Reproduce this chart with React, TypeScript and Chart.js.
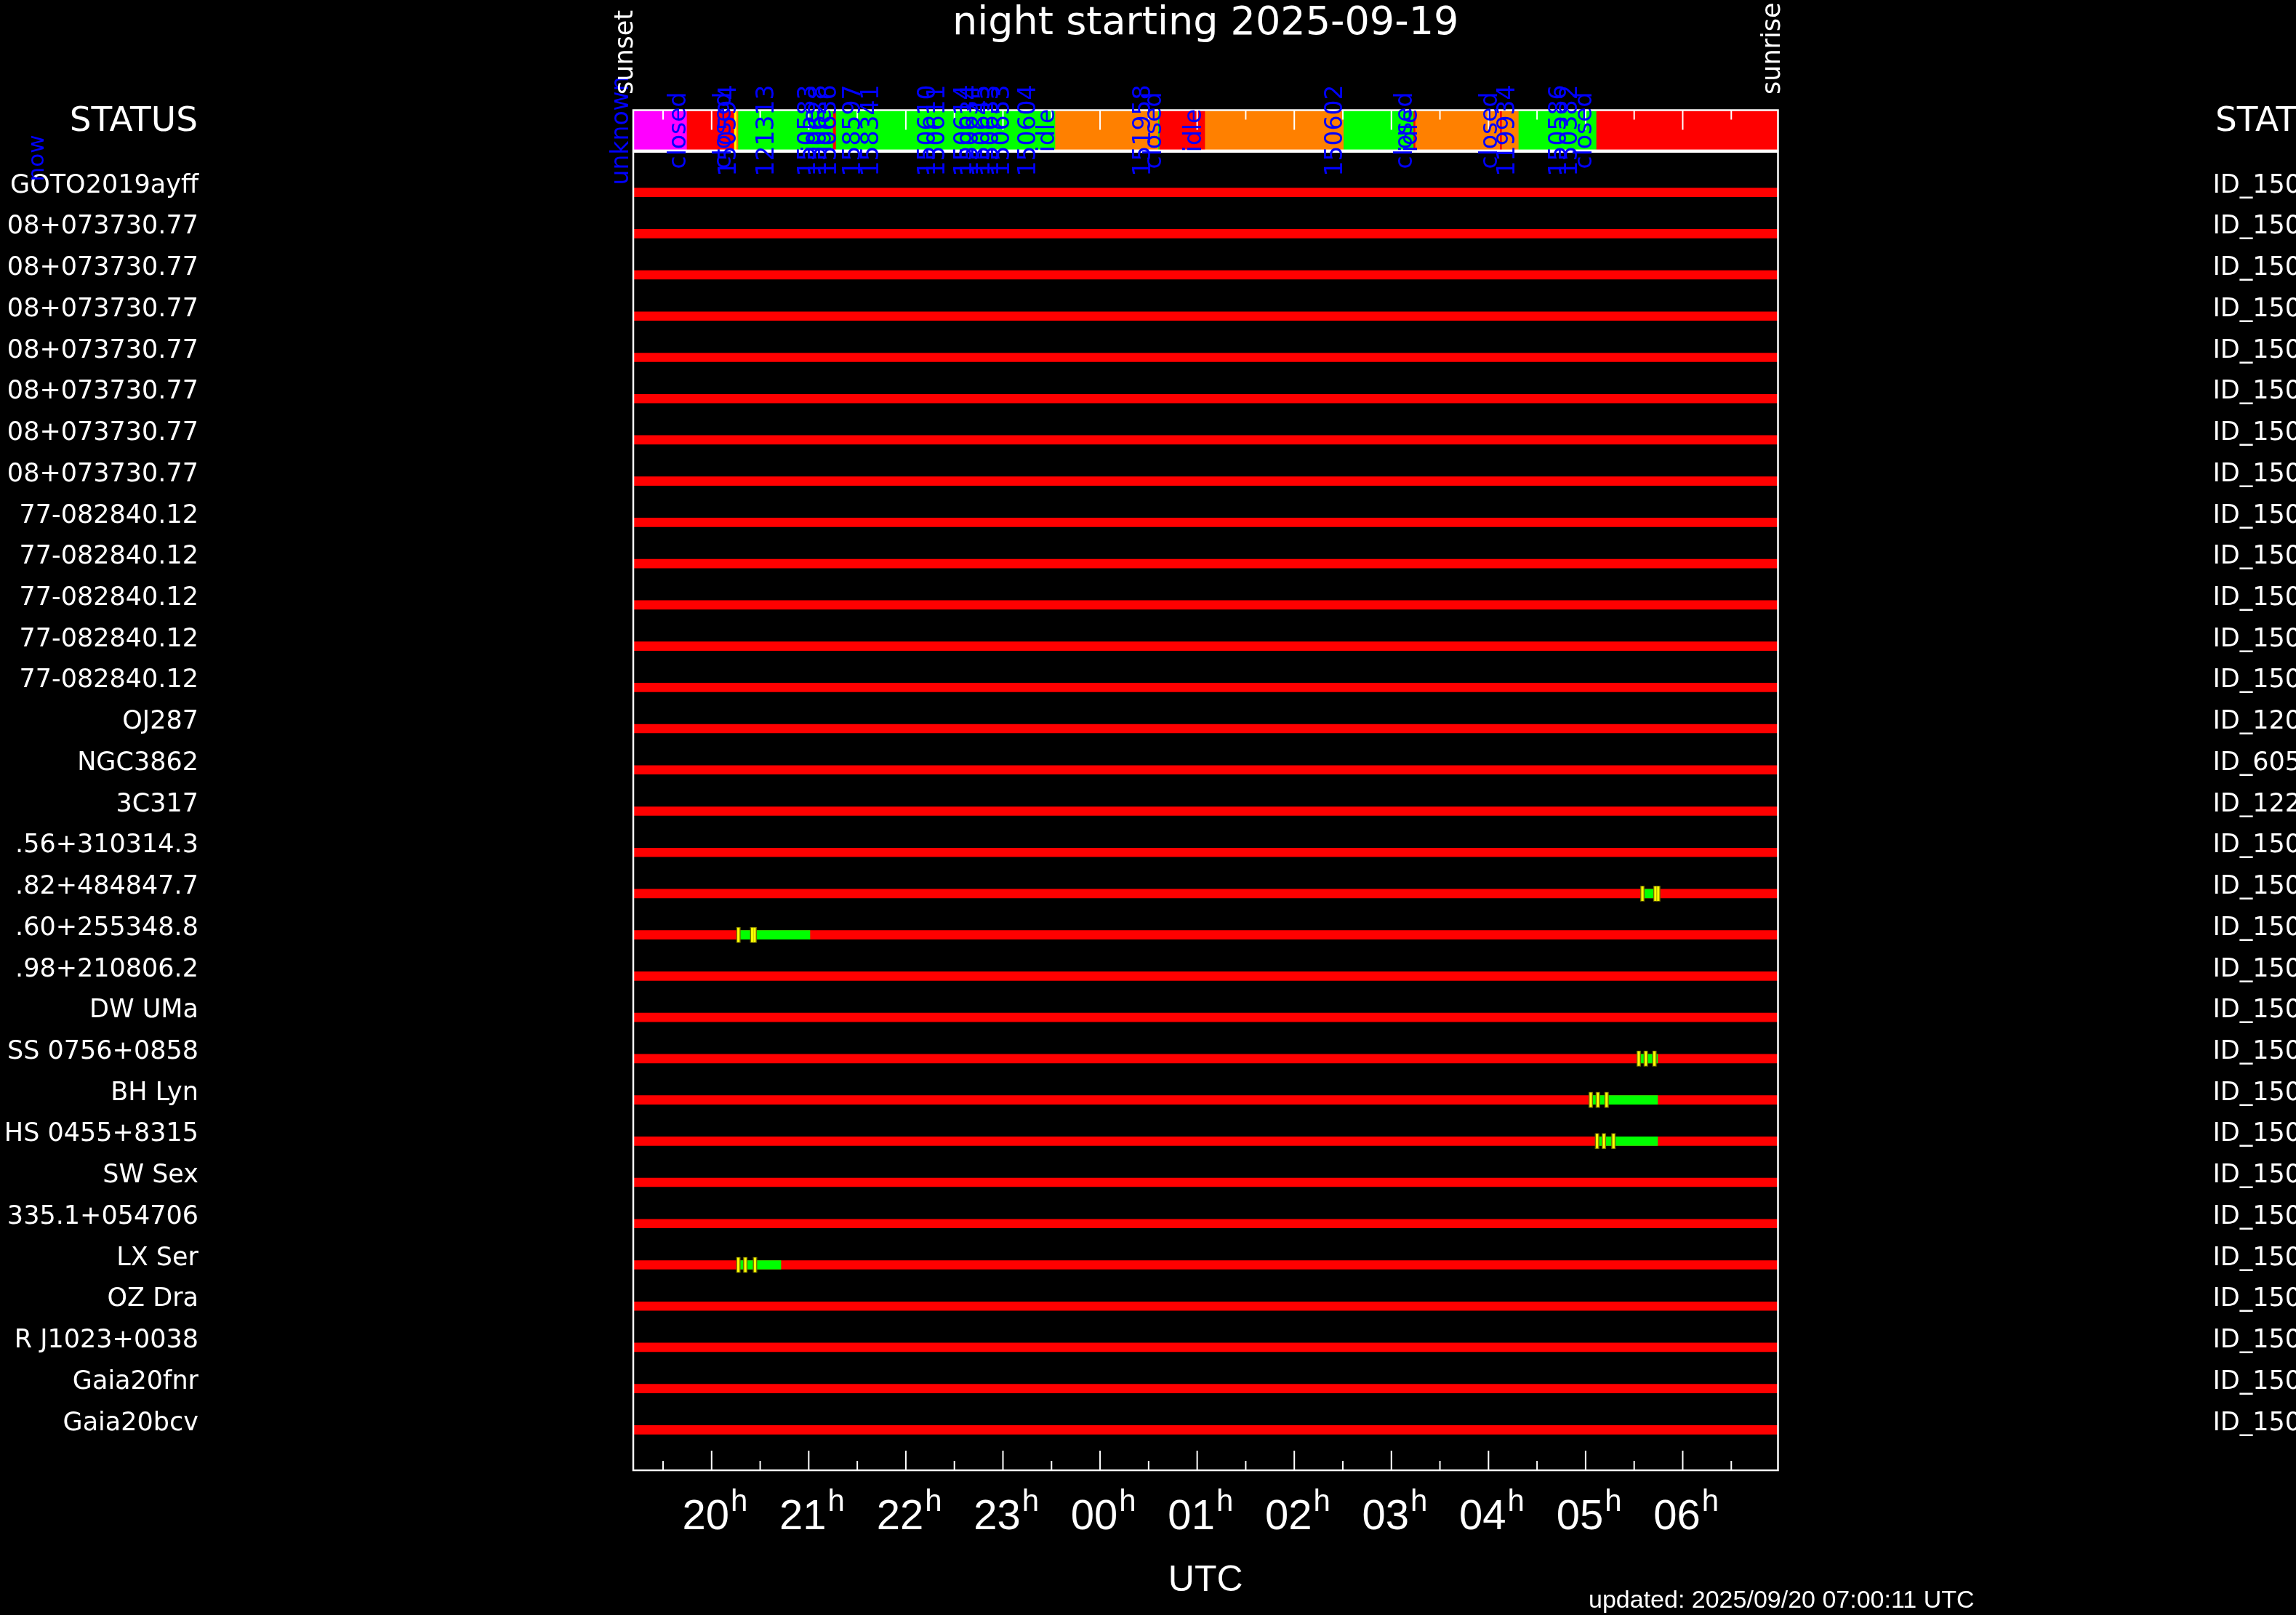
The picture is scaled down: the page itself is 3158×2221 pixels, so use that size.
import React, { useEffect, useRef } from 'react';
import { Chart, registerables } from 'chart.js';

Chart.register(...registerables);

const WIDTH = 3158;
const HEIGHT = 2221;
const SANS = "'DejaVu Sans', sans-serif";
const ARIAL = "'Liberation Sans', 'DejaVu Sans', sans-serif";

// ---------------- data ----------------
const chartTitle = 'night starting 2025-09-19';
const updatedText = 'updated: 2025/09/20 07:00:11 UTC';

const targetNames = [
  'GOTO2019ayff',
  '08+073730.77', '08+073730.77', '08+073730.77', '08+073730.77',
  '08+073730.77', '08+073730.77', '08+073730.77',
  '77-082840.12', '77-082840.12', '77-082840.12', '77-082840.12', '77-082840.12',
  'OJ287', 'NGC3862', '3C317',
  '.56+310314.3', '.82+484847.7', '.60+255348.8', '.98+210806.2',
  'DW UMa', 'SS 0756+0858', 'BH Lyn', 'HS 0455+8315', 'SW Sex',
  '335.1+054706', 'LX Ser', 'OZ Dra', 'R J1023+0038', 'Gaia20fnr', 'Gaia20bcv',
];
const targetIds = [
  'ID_150', 'ID_150', 'ID_150', 'ID_150', 'ID_150', 'ID_150', 'ID_150',
  'ID_150', 'ID_150', 'ID_150', 'ID_150', 'ID_150', 'ID_150',
  'ID_120', 'ID_605', 'ID_122',
  'ID_150', 'ID_150', 'ID_150', 'ID_150', 'ID_150', 'ID_150', 'ID_150',
  'ID_150', 'ID_150', 'ID_150', 'ID_150', 'ID_150', 'ID_150', 'ID_150', 'ID_150',
];
const rowIndex = targetNames.map((_, i) => i);

// time axis in decimal UT hours (values above 24 = next morning)
const sunset = 19.193;
const sunrise = 30.981;
const hourTicks = [20, 21, 22, 23, 24, 25, 26, 27, 28, 29, 30];
const hourLabels = ['20', '21', '22', '23', '00', '01', '02', '03', '04', '05', '06'];
const halfHourTicks = [19.5, 20.5, 21.5, 22.5, 23.5, 24.5, 25.5, 26.5, 27.5, 28.5, 29.5, 30.5];

// dome / telescope status strip
const statusStart = [19.193, 19.747, 20.234, 20.258, 20.276, 21.252, 21.282, 23.540, 24.601, 24.613, 25.083, 26.510, 27.230, 27.249, 28.121, 28.140, 28.312, 29.113];
const statusEnd   = [19.747, 20.234, 20.258, 20.276, 21.252, 21.282, 23.540, 24.601, 24.613, 25.083, 26.510, 27.230, 27.249, 28.121, 28.140, 28.312, 29.113, 30.981];
const statusColor = ['#ff00ff', '#ff0000', '#ffff00', '#ff8000', '#00ff00', '#ff0000', '#00ff00', '#ff8000', '#00ff00', '#ff0000', '#ff8000', '#00ff00', '#ff0000', '#ff8000', '#ff0000', '#ff8000', '#00ff00', '#ff0000'];

const statusLabelTime = [19.073, 19.665, 20.129, 20.181, 20.570, 20.997, 21.042, 21.110, 21.162, 21.214, 21.461, 21.649, 22.233, 22.330, 22.607, 22.674, 22.794, 22.884, 22.996, 23.266, 23.460, 24.449, 24.561, 24.973, 26.425, 27.144, 27.196, 28.020, 28.200, 28.731, 28.843, 28.993];
const statusLabelText = ['unknown', 'closed', 'closed', '150594', '121313', '150583', 'idle', '150628', 'idle', '150636', '158597', '158341', '150610', '150611', '150614', '150634', '150645', '150633', '150653', '150604', 'idle', '151958', 'closed', 'idle', '150602', 'closed', 'idle', 'closed', '119934', '150586', '150382', 'closed'];
const nowTime = 13.061;

// observed intervals (green) per target row
const obsRow   = [17, 18, 21, 22, 23, 26];
const obsStart = [29.585, 20.276, 29.547, 29.053, 29.118, 20.275];
const obsEnd   = [29.748, 21.012, 29.741, 29.741, 29.741, 20.713];

// individual exposure starts (yellow ticks)
const expRow  = [17, 17, 17, 18, 18, 18, 21, 21, 21, 22, 22, 22, 23, 23, 23, 26, 26, 26];
const expTime = [29.585, 29.719, 29.748, 20.276, 20.418, 20.443, 29.547, 29.620, 29.709, 29.053, 29.126, 29.216, 29.118, 29.188, 29.287, 20.275, 20.347, 20.447];

const yTop = -2.02;
const yBottom = 30.98;
const statusRowValue = -1.5;
const panelSplitValue = -1;

// ---------------- plugin for frame, ticks and annotations ----------------
const decorPlugin = {
  id: 'decor',
  beforeDraw(chart: any) {
    const { ctx, width, height } = chart;
    ctx.save();
    ctx.fillStyle = '#000000';
    ctx.fillRect(0, 0, width, height);
    ctx.restore();
  },
  afterDatasetsDraw(chart: any) {
    const { ctx, chartArea, scales } = chart;
    const x = scales.x;
    const y = scales.y;
    const { left, right, top, bottom } = chartArea;
    const split = y.getPixelForValue(panelSplitValue);
    ctx.save();
    ctx.strokeStyle = '#ffffff';
    ctx.lineWidth = 2.5;
    ctx.strokeRect(left, top + 1.5, right - left, split - 1 - (top + 1.5));
    ctx.strokeRect(left, split + 1, right - left, bottom - split - 1);
    ctx.lineWidth = 2;
    ctx.beginPath();
    x.ticks.forEach((t: any) => {
      const px = x.getPixelForValue(t.value);
      const len = Number.isInteger(t.value) ? 27 : 13;
      ctx.moveTo(px, top + 1.5);
      ctx.lineTo(px, top + 1.5 + len);
      ctx.moveTo(px, bottom);
      ctx.lineTo(px, bottom - len);
    });
    ctx.stroke();

    // blue status annotations
    const sy = y.getPixelForValue(statusRowValue);
    ctx.fillStyle = '#0000ff';
    ctx.font = `33px ${SANS}`;
    ctx.textAlign = 'center';
    ctx.textBaseline = 'middle';
    statusLabelTime.forEach((t, i) => {
      ctx.save();
      ctx.translate(x.getPixelForValue(t), sy);
      ctx.rotate(-Math.PI / 2);
      ctx.fillText(statusLabelText[i], 0, 0);
      ctx.restore();
    });
    ctx.font = `31px ${SANS}`;
    ctx.save();
    ctx.translate(x.getPixelForValue(nowTime), sy + 38);
    ctx.rotate(-Math.PI / 2);
    ctx.fillText('now', 0, 0);
    ctx.restore();

    // sunset / sunrise
    ctx.fillStyle = '#ffffff';
    ctx.font = `35px ${SANS}`;
    ctx.textAlign = 'left';
    ctx.textBaseline = 'alphabetic';
    ctx.save();
    ctx.translate(x.getPixelForValue(sunset) - 1, top - 20);
    ctx.rotate(-Math.PI / 2);
    ctx.fillText('sunset', 0, 0);
    ctx.restore();
    ctx.save();
    ctx.translate(x.getPixelForValue(sunrise) + 2, top - 20);
    ctx.rotate(-Math.PI / 2);
    ctx.fillText('sunrise', 0, 0);
    ctx.restore();
    ctx.restore();
  },
  afterDraw(chart: any) {
    const { ctx, chartArea, scales } = chart;
    const x = scales.x;
    const { top, bottom } = chartArea;
    ctx.save();
    ctx.fillStyle = '#ffffff';
    ctx.textBaseline = 'alphabetic';
    // superscript h on hour labels
    x.ticks.forEach((t: any) => {
      const idx = hourTicks.indexOf(t.value);
      if (idx < 0) return;
      ctx.font = `58px ${ARIAL}`;
      const w = ctx.measureText(hourLabels[idx]).width;
      const cx = x.getPixelForValue(t.value) - 8;
      ctx.font = `42px ${ARIAL}`;
      ctx.textAlign = 'left';
      ctx.fillText('h', cx + w / 2 + 2, bottom + 56);
    });
    // STATUS headers
    ctx.font = `47px ${SANS}`;
    ctx.textAlign = 'right';
    ctx.fillText('STATUS', 272, top + 30);
    ctx.textAlign = 'left';
    ctx.fillText('STATUS', 3047, top + 30);
    // updated stamp
    ctx.font = `34px ${ARIAL}`;
    ctx.textAlign = 'left';
    ctx.fillText(updatedText, 2185, 2211);
    ctx.restore();
  },
};

export default function App() {
  const canvasRef = useRef<HTMLCanvasElement | null>(null);

  useEffect(() => {
    document.body.style.margin = '0';
    document.body.style.background = '#000';
    const canvas = canvasRef.current;
    if (!canvas) return;

    const chart = new Chart(canvas, {
      type: 'bar',
      data: {
        datasets: [
          {
            type: 'scatter',
            label: 'exposures',
            data: expTime.map((t, i) => ({ x: t, y: expRow[i] })),
            indexAxis: 'x',
            pointStyle: 'line',
            rotation: 90,
            radius: 10,
            borderWidth: 3.2,
            borderColor: '#ffff00',
            backgroundColor: '#ffff00',
            order: 0,
          } as any,
          {
            type: 'scatter',
            label: 'exposure outline',
            data: expTime.map((t, i) => ({ x: t, y: expRow[i] })),
            indexAxis: 'x',
            pointStyle: 'line',
            rotation: 90,
            radius: 10.8,
            borderWidth: 6,
            borderColor: '#6e6a00',
            backgroundColor: '#6e6a00',
            order: 1,
          } as any,
          {
            type: 'bar',
            label: 'observed',
            data: obsRow.map((r, i) => ({ x: [obsStart[i], obsEnd[i]], y: r })),
            backgroundColor: '#00ff00',
            borderWidth: 0,
            barThickness: 12,
            maxBarThickness: 12,
            grouped: false,
            order: 2,
          } as any,
          {
            type: 'bar',
            label: 'targets',
            data: rowIndex.map((r) => ({ x: [sunset, sunrise], y: r })),
            backgroundColor: '#ff0000',
            borderWidth: 0,
            barThickness: 12,
            maxBarThickness: 12,
            grouped: false,
            order: 3,
          } as any,
          {
            type: 'bar',
            label: 'status',
            data: statusStart.map((s, i) => ({ x: [s, statusEnd[i]], y: statusRowValue })),
            backgroundColor: statusColor,
            borderWidth: 0,
            barThickness: 54,
            maxBarThickness: 54,
            grouped: false,
            order: 4,
          } as any,
        ],
      },
      options: {
        indexAxis: 'y',
        responsive: false,
        animation: false,
        events: [],
        devicePixelRatio: 1,
        layout: { padding: 0 },
        plugins: {
          legend: { display: false },
          tooltip: { enabled: false },
          title: {
            display: true,
            text: chartTitle,
            color: '#ffffff',
            fullSize: false,
            font: { family: SANS, size: 54, weight: 'normal' },
            padding: { top: 1, bottom: 84.2 },
          },
        },
        scales: {
          x: {
            type: 'linear',
            position: 'bottom',
            min: sunset,
            max: sunrise,
            offset: false,
            beginAtZero: false,
            grid: { display: false, drawTicks: false, tickLength: 0, offset: false },
            border: { display: false },
            afterBuildTicks: (scale: any) => {
              scale.ticks = [...halfHourTicks, ...hourTicks].sort((a, b) => a - b).map((v) => ({ value: v }));
            },
            afterFit: (scale: any) => {
              scale.height = 199;
              scale.paddingLeft = 0;
              scale.paddingRight = 0;
            },
            ticks: {
              color: '#ffffff',
              font: { family: ARIAL, size: 58 },
              padding: 30,
              labelOffset: -8,
              autoSkip: false,
              maxRotation: 0,
              minRotation: 0,
              callback: (value: any) => {
                const idx = hourTicks.indexOf(Number(value));
                return idx >= 0 ? hourLabels[idx] : '';
              },
            },
            title: {
              display: true,
              text: 'UTC',
              color: '#ffffff',
              font: { family: ARIAL, size: 50 },
              padding: { top: 0, bottom: 17 },
            },
          },
          y: {
            type: 'linear',
            position: 'left',
            min: yTop,
            max: yBottom,
            reverse: true,
            offset: false,
            grid: { display: false, drawTicks: false, tickLength: 0, offset: false },
            border: { display: false },
            afterBuildTicks: (scale: any) => {
              scale.ticks = rowIndex.map((v) => ({ value: v }));
            },
            afterFit: (scale: any) => {
              scale.width = 871;
              scale.paddingTop = 0;
              scale.paddingBottom = 0;
            },
            ticks: {
              color: '#ffffff',
              font: { family: SANS, size: 35 },
              padding: 598,
              labelOffset: -9,
              autoSkip: false,
              callback: (value: any) => targetNames[Number(value)] ?? '',
            },
          },
          y2: {
            type: 'linear',
            position: 'right',
            min: yTop,
            max: yBottom,
            reverse: true,
            offset: false,
            grid: { display: false, drawTicks: false, tickLength: 0, offset: false },
            border: { display: false },
            afterBuildTicks: (scale: any) => {
              scale.ticks = rowIndex.map((v) => ({ value: v }));
            },
            afterFit: (scale: any) => {
              scale.width = 712.5;
              scale.paddingTop = 0;
              scale.paddingBottom = 0;
            },
            ticks: {
              color: '#ffffff',
              font: { family: SANS, size: 35 },
              padding: 598,
              labelOffset: -9,
              autoSkip: false,
              callback: (value: any) => targetIds[Number(value)] ?? '',
            },
          },
        },
      } as any,
      plugins: [decorPlugin],
    });

    return () => {
      chart.destroy();
    };
  }, []);

  return (
    <div style={{ position: 'absolute', left: 0, top: 0, width: WIDTH, height: HEIGHT, background: '#000', overflow: 'hidden' }}>
      <canvas ref={canvasRef} width={WIDTH} height={HEIGHT} style={{ display: 'block', width: WIDTH, height: HEIGHT }} />
    </div>
  );
}
